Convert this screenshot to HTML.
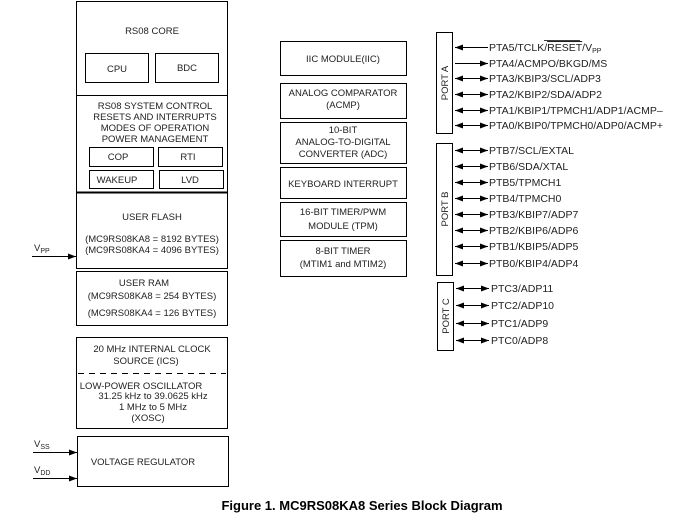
<!DOCTYPE html>
<html><head><meta charset="utf-8"><style>
html,body{margin:0;padding:0;background:#fff;}
svg{display:block;}
text{font-family:"Liberation Sans",sans-serif;font-size:9.5px;fill:#222;}
.c{text-anchor:middle;}
.b{font-weight:bold;font-size:13px;fill:#000;}
.p{font-size:10.5px;}
</style></head><body>
<svg width="678" height="521" viewBox="0 0 678 521" xmlns="http://www.w3.org/2000/svg">
<defs>
<marker id="a" markerWidth="8" markerHeight="6" refX="8" refY="3" orient="auto" markerUnits="userSpaceOnUse"><path d="M0,0 L8,3 L0,6 Z" fill="#000"/></marker>
<marker id="s" markerWidth="8" markerHeight="6" refX="0" refY="3" orient="auto" markerUnits="userSpaceOnUse"><path d="M8,0 L0,3 L8,6 Z" fill="#000"/></marker>
</defs>
<g fill="none" stroke="#000" stroke-width="1">
<rect x="76.5" y="1.5" width="151" height="267"/>
<line x1="76" y1="95.5" x2="228" y2="95.5"/>
<line x1="76" y1="192.5" x2="228" y2="192.5" stroke-width="2"/>
<rect x="85.5" y="53.5" width="63" height="29"/>
<rect x="155.5" y="53.5" width="63" height="29"/>
<rect x="89.5" y="147.5" width="64" height="19"/>
<rect x="158.5" y="147.5" width="64" height="19"/>
<rect x="89.5" y="170.5" width="64" height="18"/>
<rect x="159.5" y="170.5" width="64" height="18"/>
<rect x="76.5" y="271.5" width="151" height="54"/>
<rect x="76.5" y="337.5" width="151" height="91"/>
<line x1="78" y1="373.5" x2="226" y2="373.5" stroke-dasharray="6,5"/>
<rect x="77.5" y="436.5" width="151" height="50"/>
<rect x="280.5" y="41.5" width="126" height="34"/>
<rect x="280.5" y="83.5" width="126" height="35"/>
<rect x="280.5" y="122.5" width="126" height="41"/>
<rect x="280.5" y="167.5" width="126" height="31"/>
<rect x="280.5" y="202.5" width="126" height="34"/>
<rect x="280.5" y="240.5" width="126" height="36"/>
<rect x="436.5" y="32.5" width="16" height="101"/>
<rect x="436.5" y="143.5" width="16" height="132"/>
<rect x="437.5" y="282.5" width="16" height="68"/>
<line x1="32" y1="256.5" x2="76" y2="256.5" marker-end="url(#a)"/>
<line x1="33" y1="452.5" x2="77" y2="452.5" marker-end="url(#a)"/>
<line x1="33" y1="478.5" x2="77" y2="478.5" marker-end="url(#a)"/>
<line x1="455" y1="47.5" x2="488" y2="47.5" marker-start="url(#s)"/>
<line x1="455" y1="63.5" x2="488" y2="63.5" marker-end="url(#a)"/>
<line x1="455" y1="78.5" x2="488" y2="78.5" marker-start="url(#s)" marker-end="url(#a)"/>
<line x1="455" y1="94.5" x2="488" y2="94.5" marker-start="url(#s)" marker-end="url(#a)"/>
<line x1="455" y1="110.5" x2="488" y2="110.5" marker-start="url(#s)" marker-end="url(#a)"/>
<line x1="455" y1="125.5" x2="488" y2="125.5" marker-start="url(#s)" marker-end="url(#a)"/>
<line x1="455" y1="150.5" x2="488" y2="150.5" marker-start="url(#s)" marker-end="url(#a)"/>
<line x1="455" y1="166.5" x2="488" y2="166.5" marker-start="url(#s)" marker-end="url(#a)"/>
<line x1="455" y1="182.5" x2="488" y2="182.5" marker-start="url(#s)" marker-end="url(#a)"/>
<line x1="455" y1="198.5" x2="488" y2="198.5" marker-start="url(#s)" marker-end="url(#a)"/>
<line x1="455" y1="214.5" x2="488" y2="214.5" marker-start="url(#s)" marker-end="url(#a)"/>
<line x1="455" y1="230.5" x2="488" y2="230.5" marker-start="url(#s)" marker-end="url(#a)"/>
<line x1="455" y1="246.5" x2="488" y2="246.5" marker-start="url(#s)" marker-end="url(#a)"/>
<line x1="455" y1="263.5" x2="488" y2="263.5" marker-start="url(#s)" marker-end="url(#a)"/>
<line x1="456" y1="288.5" x2="489" y2="288.5" marker-start="url(#s)" marker-end="url(#a)"/>
<line x1="456" y1="305.5" x2="489" y2="305.5" marker-start="url(#s)" marker-end="url(#a)"/>
<line x1="456" y1="323.5" x2="489" y2="323.5" marker-start="url(#s)" marker-end="url(#a)"/>
<line x1="456" y1="340.5" x2="489" y2="340.5" marker-start="url(#s)" marker-end="url(#a)"/>
</g>
<text class="c" x="152" y="34">RS08 CORE</text>
<text class="c" x="117" y="72">CPU</text>
<text class="c" x="187" y="71">BDC</text>
<text class="c" x="155" y="109">RS08 SYSTEM CONTROL</text>
<text class="c" x="155" y="120">RESETS AND INTERRUPTS</text>
<text class="c" x="155" y="131">MODES OF OPERATION</text>
<text class="c" x="155" y="142">POWER MANAGEMENT</text>
<text class="c" x="118" y="160">COP</text>
<text class="c" x="188" y="160">RTI</text>
<text class="c" x="117" y="183">WAKEUP</text>
<text class="c" x="190" y="183">LVD</text>
<text class="c" x="152" y="220">USER FLASH</text>
<text class="c" x="152" y="242">(MC9RS08KA8 = 8192 BYTES)</text>
<text class="c" x="152" y="253">(MC9RS08KA4 = 4096 BYTES)</text>
<text x="34" y="251">V<tspan font-size="7" dy="2">PP</tspan></text>
<text class="c" x="144" y="286">USER RAM</text>
<text class="c" x="152" y="299">(MC9RS08KA8 = 254 BYTES)</text>
<text class="c" x="152" y="316">(MC9RS08KA4 = 126 BYTES)</text>
<text class="c" x="152" y="352">20 MHz INTERNAL CLOCK</text>
<text class="c" x="146" y="364">SOURCE (ICS)</text>
<text class="c" x="141" y="389">LOW-POWER OSCILLATOR</text>
<text class="c" x="153" y="399">31.25 kHz to 39.0625 kHz</text>
<text class="c" x="153" y="410">1 MHz to 5 MHz</text>
<text class="c" x="148" y="421">(XOSC)</text>
<text x="34" y="447">V<tspan font-size="7" dy="2">SS</tspan></text>
<text x="34" y="473">V<tspan font-size="7" dy="2">DD</tspan></text>
<text class="c" x="143" y="465">VOLTAGE REGULATOR</text>
<text class="c" x="343" y="62">IIC MODULE(IIC)</text>
<text class="c" x="343" y="96">ANALOG COMPARATOR</text>
<text class="c" x="343" y="108">(ACMP)</text>
<text class="c" x="343" y="133">10-BIT</text>
<text class="c" x="343" y="145">ANALOG-TO-DIGITAL</text>
<text class="c" x="343" y="157">CONVERTER (ADC)</text>
<text class="c" x="343" y="187">KEYBOARD INTERRUPT</text>
<text class="c" x="343" y="215">16-BIT TIMER/PWM</text>
<text class="c" x="343" y="229">MODULE (TPM)</text>
<text class="c" x="343" y="254">8-BIT TIMER</text>
<text class="c" x="343" y="267">(MTIM1 and MTIM2)</text>
<text class="c" transform="translate(448,83) rotate(-90)">PORT A</text>
<text class="c" transform="translate(448,209) rotate(-90)">PORT B</text>
<text class="c" transform="translate(449,316) rotate(-90)">PORT C</text>
<g class="p">
<text class="p" x="489" y="51">PTA5/TCLK/<tspan text-decoration="overline">RESET</tspan>/V<tspan font-size="7" dy="2">PP</tspan></text>
<line x1="544" y1="40.5" x2="580" y2="40.5" stroke="#000" stroke-width="0.8"/>
<text class="p" x="489" y="67">PTA4/ACMPO/BKGD/MS</text>
<text class="p" x="489" y="82">PTA3/KBIP3/SCL/ADP3</text>
<text class="p" x="489" y="98">PTA2/KBIP2/SDA/ADP2</text>
<text class="p" x="489" y="114">PTA1/KBIP1/TPMCH1/ADP1/ACMP–</text>
<text class="p" x="489" y="129">PTA0/KBIP0/TPMCH0/ADP0/ACMP+</text>
<text class="p" x="489" y="154">PTB7/SCL/EXTAL</text>
<text class="p" x="489" y="170">PTB6/SDA/XTAL</text>
<text class="p" x="489" y="186">PTB5/TPMCH1</text>
<text class="p" x="489" y="202">PTB4/TPMCH0</text>
<text class="p" x="489" y="218">PTB3/KBIP7/ADP7</text>
<text class="p" x="489" y="234">PTB2/KBIP6/ADP6</text>
<text class="p" x="489" y="250">PTB1/KBIP5/ADP5</text>
<text class="p" x="489" y="267">PTB0/KBIP4/ADP4</text>
<text class="p" x="491" y="292">PTC3/ADP11</text>
<text class="p" x="491" y="309">PTC2/ADP10</text>
<text class="p" x="491" y="327">PTC1/ADP9</text>
<text class="p" x="491" y="344">PTC0/ADP8</text>
</g>
<text class="b c" x="362" y="510">Figure 1. MC9RS08KA8 Series Block Diagram</text>
</svg>
</body></html>
